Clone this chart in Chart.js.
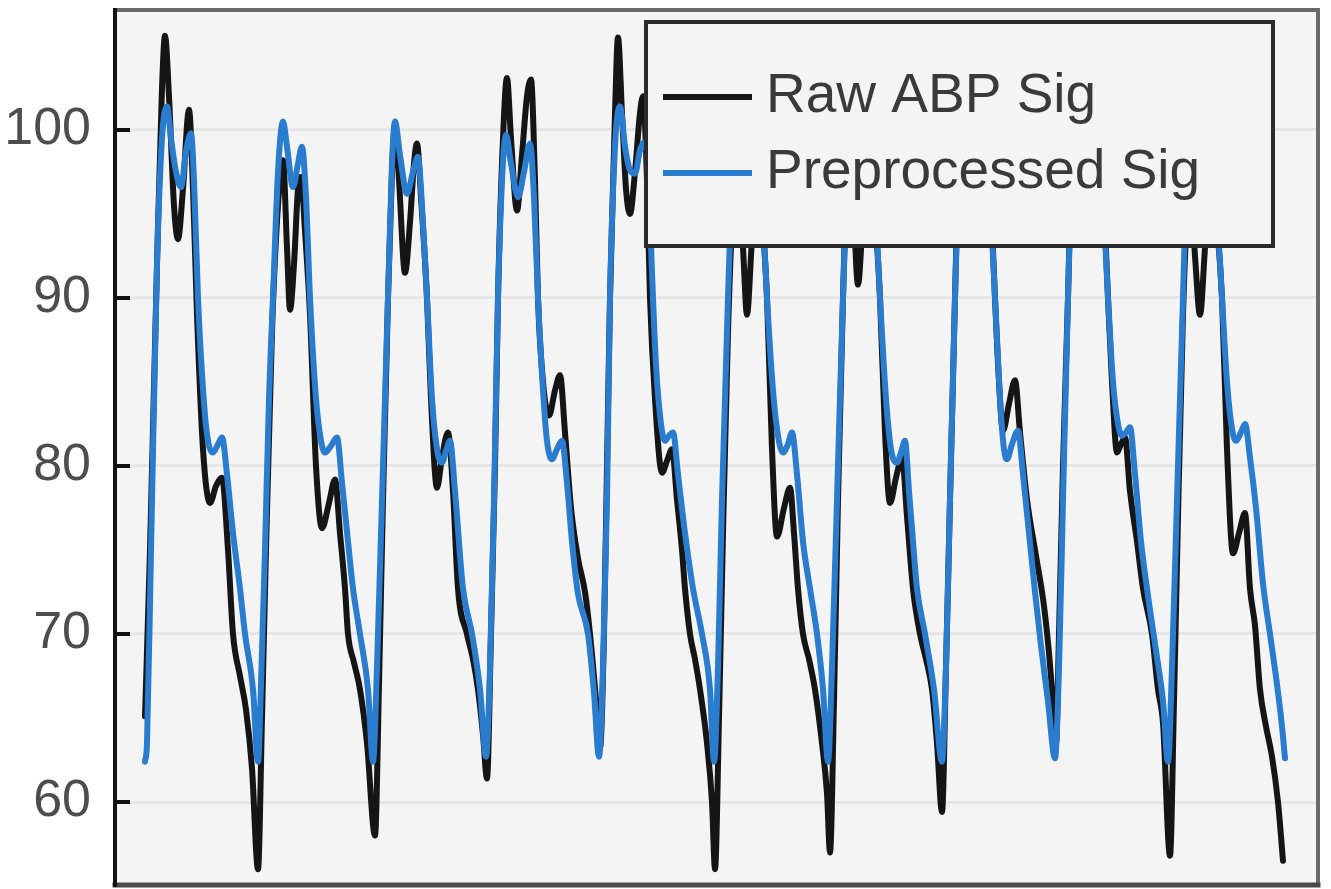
<!DOCTYPE html>
<html>
<head>
<meta charset="utf-8">
<title>Raw vs preprocessed ABP</title>
<script src="https://cdn.jsdelivr.net/npm/chart.js@4.4.1/dist/chart.umd.min.js"></script>
<style>
  html, body { margin: 0; padding: 0; background: #ffffff; }
  #wrap { width: 1331px; height: 889px; position: relative; }
</style>
</head>
<body>
<div id="wrap"><canvas id="abpChart"></canvas></div>
<script>
'use strict';

// data -----------------------------------------------------------------------
// key points, one row per beat (sample index, mmHg)
let rawT = [
  0, 5, 12, 17, 20, 24, 29, 33, 38, 44, 48, 52, 58, 65, 71, 77, 83, 88, 95, 101, 107, 113,
  117, 121, 127, 133, 138, 142, 145, 149, 153, 156, 160, 165, 171, 177, 184, 190, 195, 200, 203, 209, 215, 222, 230,
  234, 238, 243, 247, 250, 254, 260, 265, 269, 272, 276, 282, 286, 292, 297, 303, 308, 313, 322, 328, 333, 338, 342,
  346, 350, 353, 358, 362, 366, 372, 377, 382, 386, 390, 393, 398, 404, 410, 415, 420, 426, 433, 440, 445, 453, 455,
  459, 462, 465, 470, 473, 477, 481, 485, 490, 495, 498, 502, 505, 510, 517, 522, 527, 532, 537, 540, 545, 550, 555, 562, 567, 570,
  574, 578, 583, 588, 593, 598, 602, 606, 610, 613, 617, 622, 627, 632, 639, 645, 649, 653, 658, 664, 670, 677, 682, 685,
  689, 693, 698, 702, 706, 709, 713, 718, 722, 725, 730, 735, 740, 745, 751, 757, 762, 768, 775, 781, 787, 792, 797,
  801, 805, 810, 814, 818, 823, 828, 833, 838, 841, 845, 850, 854, 858, 864, 870, 875, 882, 890, 898, 903, 907, 911,
  914, 918, 923, 927, 931, 936, 941, 946, 951, 954, 958, 963, 967, 972, 976, 980, 985, 992, 998, 1007, 1013, 1018, 1025,
  1029, 1033, 1038, 1042, 1045, 1050, 1055, 1060, 1064, 1067, 1071, 1077, 1082, 1088, 1094, 1100, 1105, 1110, 1115, 1121, 1127, 1133, 1138
];
let rawABP = [
  65.1, 75, 92, 102.5, 105.6, 102, 95.5, 93.5, 96.5, 101.2, 96.5, 89, 81, 77.8, 78.8, 79.3, 75, 70, 67.5, 65.5, 62, 56.0,
  65, 75, 88, 95.5, 98.2, 93, 89.3, 92, 96.5, 97.2, 94, 89, 80, 76.3, 77.8, 79.2, 76, 72.7, 70, 68.3, 66.7, 63.5, 58.0,
  67, 78, 90, 97.5, 100.3, 97, 91.5, 94.5, 98, 99.2, 96, 90, 84, 78.7, 80.5, 82.0, 78.5, 72.7, 70, 68.5, 66.7, 64, 61.4,
  70, 80, 90, 99.5, 103.1, 99.5, 95.2, 98.5, 102, 103.0, 97, 90, 85, 83.0, 84.5, 85.4, 82, 77.5, 74.5, 72.5, 70, 64.7, 63.2,
  70, 80, 90, 101, 105.5, 101, 96.5, 95.0, 97.5, 101, 102.0, 97, 90, 84, 79.6, 80.3, 81.0, 78, 75, 72.7, 70, 68.5, 66.7, 63.5, 60, 56.0,
  65, 76, 88, 95.5, 98.0, 93, 89.0, 92.5, 97, 98.0, 95, 90, 81, 75.8, 77.5, 78.7, 76, 72.7, 70, 68.5, 66.7, 63.5, 60.5, 57.0,
  66, 78, 90, 97.5, 100.0, 95, 90.8, 95, 98.5, 99.0, 95, 90, 82, 77.8, 79.3, 80.5, 77, 72.7, 70, 68.5, 66.7, 63.5, 59.4,
  68, 78, 90, 99, 103.0, 98, 95.0, 98.5, 102, 103.0, 97, 90, 85, 82.1, 83.7, 85.1, 82, 78, 75, 72.1, 69.5, 66.7, 63.5,
  70, 80, 90, 99, 103.0, 98.5, 95.5, 98.5, 102, 102.5, 97, 90, 85, 80.8, 81.3, 81.7, 78.5, 75.5, 72.7, 70, 66.7, 64.7, 56.8,
  66, 77, 89, 95, 97.0, 92.5, 89.0, 93, 96.5, 97.5, 95, 90, 81, 74.8, 76, 77.2, 72.7, 70.5, 66.7, 64.5, 62.7, 60, 56.5
];
let preT = [
  0, 2, 6, 12, 17, 22, 26, 31, 36, 41, 46, 49, 53, 60, 64, 68, 73, 77, 82, 88, 95, 100, 108, 113,
  116, 120, 124, 128, 133, 138, 142, 148, 153, 157, 161, 165, 171, 176, 180, 186, 192, 197, 203, 208, 215, 223, 228,
  232, 237, 243, 247, 250, 255, 262, 268, 273, 277, 282, 287, 292, 297, 301, 305, 310, 318, 327, 335, 341,
  345, 349, 353, 357, 361, 366, 373, 379, 385, 389, 393, 398, 402, 407, 412, 417, 422, 427, 433, 443, 449, 454,
  458, 462, 465, 470, 475, 480, 485, 490, 495, 500, 504, 507, 511, 516, 520, 524, 528, 533, 540, 548, 557, 565, 569,
  573, 577, 583, 588, 593, 598, 604, 609, 613, 617, 622, 628, 633, 638, 643, 647, 652, 658, 665, 672, 678, 683,
  687, 692, 698, 703, 707, 712, 717, 722, 726, 730, 735, 741, 746, 752, 756, 760, 764, 768, 772, 780, 789, 797,
  801, 805, 810, 814, 818, 823, 829, 835, 841, 845, 850, 855, 859, 862, 867, 873, 878, 884, 890, 896, 903, 910,
  914, 918, 923, 927, 931, 936, 943, 949, 954, 958, 963, 968, 973, 977, 981, 985, 990, 996, 1002, 1011, 1018, 1023,
  1027, 1032, 1038, 1042, 1045, 1050, 1057, 1063, 1067, 1071, 1077, 1082, 1087, 1091, 1096, 1100, 1105, 1111, 1118, 1125, 1132, 1137, 1140
];
let preABP = [
  62.4, 63.5, 75, 92, 99.5, 101.4, 99.5, 97.5, 96.6, 98.7, 99.8, 97, 90, 83, 81.2, 80.8, 81.3, 81.7, 79.5, 76, 72.7, 70, 66.7, 62.4,
  67, 75, 84, 90, 97.5, 100.5, 99, 96.6, 98, 99.0, 96, 90, 84, 81.5, 80.8, 81.2, 81.7, 79, 75.5, 72.7, 70, 66.7, 62.4,
  68, 78, 90, 98, 100.5, 98.5, 96.2, 97.5, 98.4, 95.5, 90, 84, 81, 80.2, 80.9, 81.5, 78.5, 72.7, 70, 66.7, 62.7,
  68, 78, 90, 97, 99.7, 98, 96.0, 97.5, 99.2, 96, 90, 84.5, 81.5, 80.4, 81.0, 81.5, 79, 75.5, 72.4, 70, 66.5, 62.7,
  68, 78, 90, 99, 101.4, 99, 97.6, 97.4, 98.8, 99.3, 96.5, 91.5, 86, 82.5, 81.5, 81.8, 82.0, 79.5, 76, 72.7, 70, 66.7, 62.4,
  68, 78, 90, 98, 100.5, 98.5, 96.5, 98, 99.0, 96, 90, 84.5, 81.8, 80.8, 81.3, 82.0, 79.5, 75.5, 72.7, 70, 66.7, 62.4,
  68, 78, 90, 98, 100.5, 98.5, 96.5, 98, 99.0, 96, 90, 84, 81, 80.2, 80.8, 81.5, 78.5, 75.5, 72.7, 70, 66.7, 62.4,
  68, 78, 90, 97.5, 100.0, 98.5, 96.5, 98, 99.3, 96, 90, 84, 81, 80.4, 81.3, 82.1, 79.5, 76, 72.5, 69.3, 66, 62.6,
  68, 78, 90, 98, 100.5, 98.5, 96.5, 98, 99.0, 96, 90, 85, 82.5, 81.8, 82.0, 82.3, 79.5, 75.5, 72.7, 69, 66, 62.4,
  68, 78, 90, 98, 100.5, 98.5, 96.5, 98, 99.0, 96, 90, 85, 82.2, 81.5, 82, 82.5, 80.5, 77.5, 73, 70, 67, 64.5, 62.6
];
let seriesNames = ['Raw ABP Sig', 'Preprocessed Sig'];
let yTicks = [60, 70, 80, 90, 100];
let yMin = 55.06;
let yMax = 107.14;
let tMin = -30;
let tMax = 1173;

// styles ---------------------------------------------------------------------
let fontFamily = "'Liberation Sans', Arial, Helvetica, sans-serif";
let rawColor = '#151515';
let preColor = '#2a7ccf';
let plotBg = '#f4f4f4';

function toPoints(ts, vs) {
  let pts = [];
  for (let i = 0; i < ts.length; i++) {
    pts.push({ x: ts[i], y: vs[i] });
  }
  return pts;
}

// background, box, inward ticks and the boxed legend
const axesBox = {
  id: 'axesBox',
  beforeDraw(chart) {
    let ctx = chart.ctx;
    let a = chart.chartArea;
    ctx.save();
    ctx.fillStyle = plotBg;
    ctx.fillRect(a.left, a.top, a.right - a.left, a.bottom - a.top);
    ctx.restore();
  },
  afterDatasetsDraw(chart) {
    let ctx = chart.ctx;
    let a = chart.chartArea;
    let bx = a.left + 531;
    let by = a.top + 12;
    let bw = a.right - 45 - bx;
    let bh = 224;
    ctx.save();
    ctx.fillStyle = plotBg;
    ctx.fillRect(bx, by, bw, bh);
    ctx.strokeStyle = '#2b2b2b';
    ctx.lineWidth = 4;
    ctx.strokeRect(bx, by, bw, bh);
    let colors = [rawColor, preColor];
    let rows = [by + 75, by + 151];
    ctx.font = '55px ' + fontFamily;
    ctx.textBaseline = 'middle';
    ctx.textAlign = 'left';
    for (let i = 0; i < seriesNames.length; i++) {
      ctx.strokeStyle = colors[i];
      ctx.lineWidth = 6;
      ctx.beginPath();
      ctx.moveTo(bx + 17, rows[i]);
      ctx.lineTo(bx + 106, rows[i]);
      ctx.stroke();
      ctx.fillStyle = '#3a3a3a';
      ctx.fillText(seriesNames[i], bx + 120, rows[i]);
    }
    ctx.restore();
  },
  afterDraw(chart) {
    let ctx = chart.ctx;
    let a = chart.chartArea;
    let yScale = chart.scales.y;
    ctx.save();
    ctx.lineCap = 'square';
    // top and right edges of the box
    ctx.strokeStyle = '#6a6a6a';
    ctx.lineWidth = 4;
    ctx.beginPath();
    ctx.moveTo(a.left, a.top);
    ctx.lineTo(a.right, a.top);
    ctx.lineTo(a.right, a.bottom);
    ctx.stroke();
    // bottom
    ctx.strokeStyle = '#4a4a4a';
    ctx.lineWidth = 5;
    ctx.beginPath();
    ctx.moveTo(a.left, a.bottom);
    ctx.lineTo(a.right, a.bottom);
    ctx.stroke();
    // left axis with inward ticks
    ctx.strokeStyle = '#111111';
    ctx.lineWidth = 4;
    ctx.beginPath();
    ctx.moveTo(a.left, a.top);
    ctx.lineTo(a.left, a.bottom);
    for (let i = 0; i < yTicks.length; i++) {
      let py = yScale.getPixelForValue(yTicks[i]);
      ctx.moveTo(a.left, py);
      ctx.lineTo(a.left + 13, py);
    }
    ctx.stroke();
    ctx.restore();
  }
};

let chartObject = {
  type: 'line',
  data: {
    datasets: [{
      label: seriesNames[0],
      data: toPoints(rawT, rawABP),
      borderColor: rawColor,
      borderWidth: 6,
      order: 2
    },
    {
      label: seriesNames[1],
      data: toPoints(preT, preABP),
      borderColor: preColor,
      borderWidth: 6,
      order: 1
    }
    ]
  },
  options: {
    responsive: true,
    maintainAspectRatio: false,
    animation: false,
    layout: {
      padding: { left: 0, top: 10, right: 13, bottom: 4 }
    },
    elements: {
      point: { radius: 0 },
      line: {
        cubicInterpolationMode: 'monotone',
        borderJoinStyle: 'round',
        borderCapStyle: 'round',
        fill: false
      }
    },
    scales: {
      x: {
        type: 'linear',
        display: false,
        min: tMin,
        max: tMax
      },
      y: {
        type: 'linear',
        min: yMin,
        max: yMax,
        afterBuildTicks(scale) {
          scale.ticks = yTicks.map(v => ({ value: v }));
        },
        afterFit(scale) {
          scale.width = 115;
          scale.paddingTop = 0;
          scale.paddingBottom = 0;
        },
        ticks: {
          color: '#4d4d4d',
          padding: 24,
          font: { family: fontFamily, size: 52 }
        },
        grid: {
          color: '#e6e6e6',
          lineWidth: 3,
          drawTicks: false
        },
        border: { display: false }
      }
    },
    plugins: {
      legend: { display: false },
      tooltip: { enabled: false }
    }
  },
  plugins: [axesBox]
};

let ctx = document.getElementById('abpChart').getContext('2d');
let myChart = new Chart(ctx, chartObject);
</script>
</body>
</html>
